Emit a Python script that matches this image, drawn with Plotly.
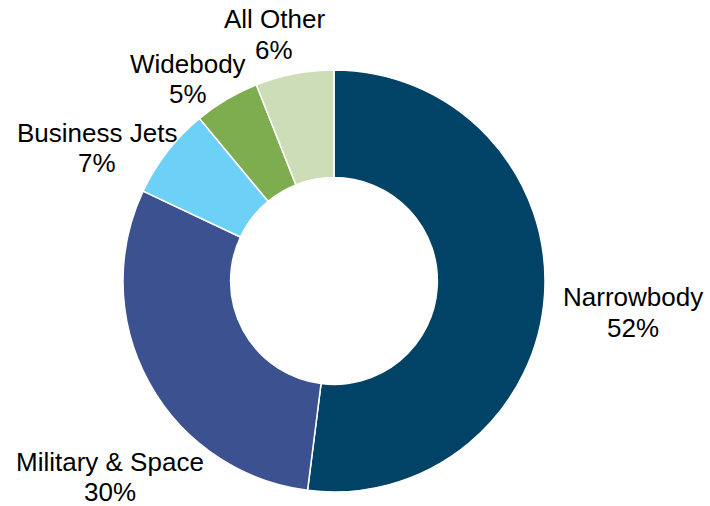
import plotly.graph_objects as go

labels = ["Narrowbody", "Military & Space", "Business Jets", "Widebody", "All Other"]
values = [52, 30, 7, 5, 6]
colors = ["#004366", "#3B5190", "#6DD0F7", "#7EAD50", "#CCDDB8"]

W, H = 710, 506
cx, cy, R = 334, 281, 211  # donut centre and outer radius (pixels)

# label placement (pixel centre x, centre y of the name line, centre y of the percent line)
label_xy = [
    (633, 297, 328),
    (110, 462, 492),
    (97, 133, 163),
    (188, 64, 94),
    (274, 19, 50),
]

fig = go.Figure(go.Pie(
    labels=labels,
    values=values,
    hole=0.49,
    sort=False,
    direction="clockwise",
    rotation=0,
    automargin=False,
    marker=dict(colors=colors, line=dict(color="white", width=1.5)),
    textinfo="none",
    hoverinfo="label+percent",
    showlegend=False,
    domain=dict(x=[(cx - R) / W, (cx + R) / W], y=[1 - (cy + R) / H, 1 - (cy - R) / H]),
))

total = sum(values)
font = dict(family="Liberation Sans, Arial, sans-serif", size=26, color="black")
for (lab, val), (x, y1, y2) in zip(zip(labels, values), label_xy):
    for txt, yy in ((lab, y1), (f"{val / total * 100:.0f}%", y2)):
        fig.add_annotation(
            x=x / W, y=1 - yy / H, xref="paper", yref="paper",
            text=txt, showarrow=False, xanchor="center", yanchor="middle",
            font=font,
        )

fig.update_layout(
    width=W, height=H,
    margin=dict(l=0, r=0, t=0, b=0),
    paper_bgcolor="white",
    plot_bgcolor="white",
)

fig.write_html("out.html", config={"displayModeBar": False},
               post_script="document.body.style.margin='0';")
